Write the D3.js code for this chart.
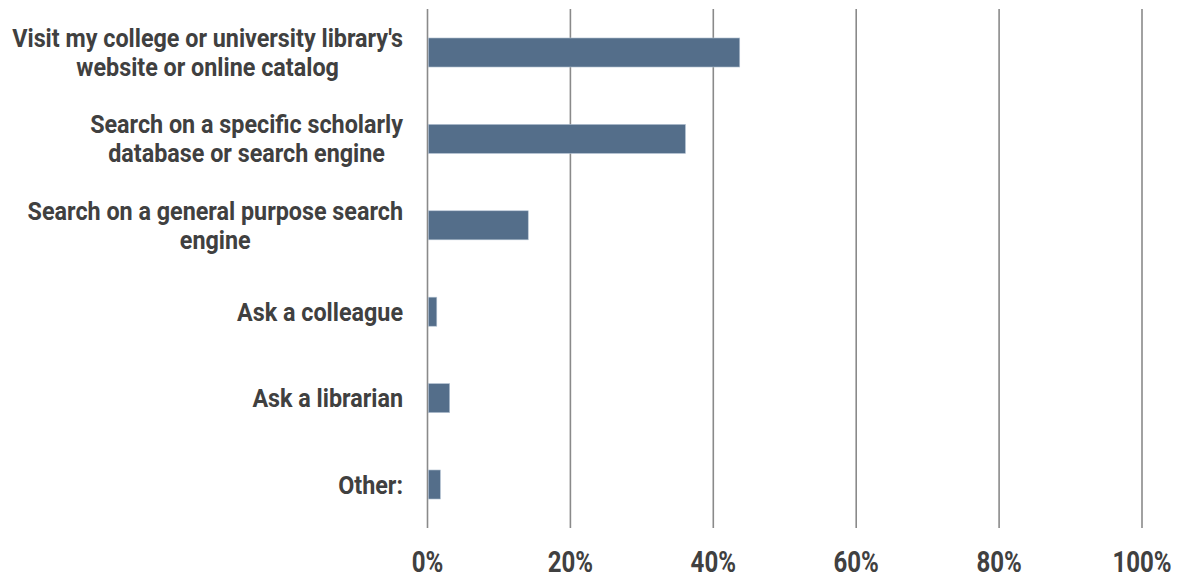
<!DOCTYPE html>
<html>
<head>
<meta charset="utf-8">
<script src="https://cdn.jsdelivr.net/npm/d3@7"></script>
<style>
  html, body { margin: 0; padding: 0; background: #fff; }
  svg text { font-family: Roboto, "Liberation Sans", Arial, sans-serif; font-weight: bold; fill: #404040; }
</style>
</head>
<body>
<svg id="chart" width="1178" height="577"></svg>
<script>
const categories = [
  ["Visit my college or university library's", "website or online catalog"],
  ["Search on a specific scholarly", "database or search engine"],
  ["Search on a general purpose search", "engine"],
  ["Ask a colleague"],
  ["Ask a librarian"],
  ["Other:"]
];
const values = [43.7, 36.1, 14.1, 1.3, 3.1, 1.8];
const tickValues = [0, 20, 40, 60, 80, 100];
const tickLabels = ["0%", "20%", "40%", "60%", "80%", "100%"];

const svg = d3.select("#chart");
const x = d3.scaleLinear().domain([0, 100]).range([427.5, 1142]);
const y = d3.scaleBand().domain(d3.range(categories.length)).range([9.3, 527.7])
  .paddingInner(0.664).paddingOuter(0.332);

// grid lines
svg.append("g").selectAll("line").data(tickValues).join("line")
  .attr("x1", d => x(d)).attr("x2", d => x(d))
  .attr("y1", 9).attr("y2", 528)
  .attr("stroke", "#8a8a8a").attr("stroke-width", 1.6);

// bars
svg.append("g").selectAll("rect").data(values).join("rect")
  .attr("x", x(0) + 0.8).attr("y", (d, i) => y(i))
  .attr("width", d => x(d) - x(0) - 0.8).attr("height", y.bandwidth())
  .attr("fill", "#546e8a").attr("stroke", "#b4c2d2").attr("stroke-width", 0.6);

// tick labels
const SX = 0.83;
svg.append("g").selectAll("text").data(tickValues).join("text")
  .attr("transform", d => `translate(${x(d)},572) scale(${SX},1)`)
  .attr("text-anchor", "middle")
  .style("font-size", "29px")
  .text((d, i) => tickLabels[i]);

// category labels (centered block, right edge aligned)
const LX = 0.915, lineH = 29, fs = 25.5;
const lab = svg.append("g");
categories.forEach((lines, i) => {
  const cy = y(i) + y.bandwidth() / 2;
  const g = lab.append("g");
  const t = g.append("text").attr("text-anchor", "middle").style("font-size", fs + "px");
  lines.forEach((s, k) => {
    t.append("tspan").attr("x", 0)
      .attr("y", (k - (lines.length - 1) / 2) * lineH + fs * 0.355)
      .text(s);
  });
  let w = 0;
  t.selectAll("tspan").each(function() { w = Math.max(w, this.getComputedTextLength()); });
  g.attr("transform", `translate(${403 - w * LX / 2},${cy}) scale(${LX},1)`);
});
</script>
</body>
</html>
